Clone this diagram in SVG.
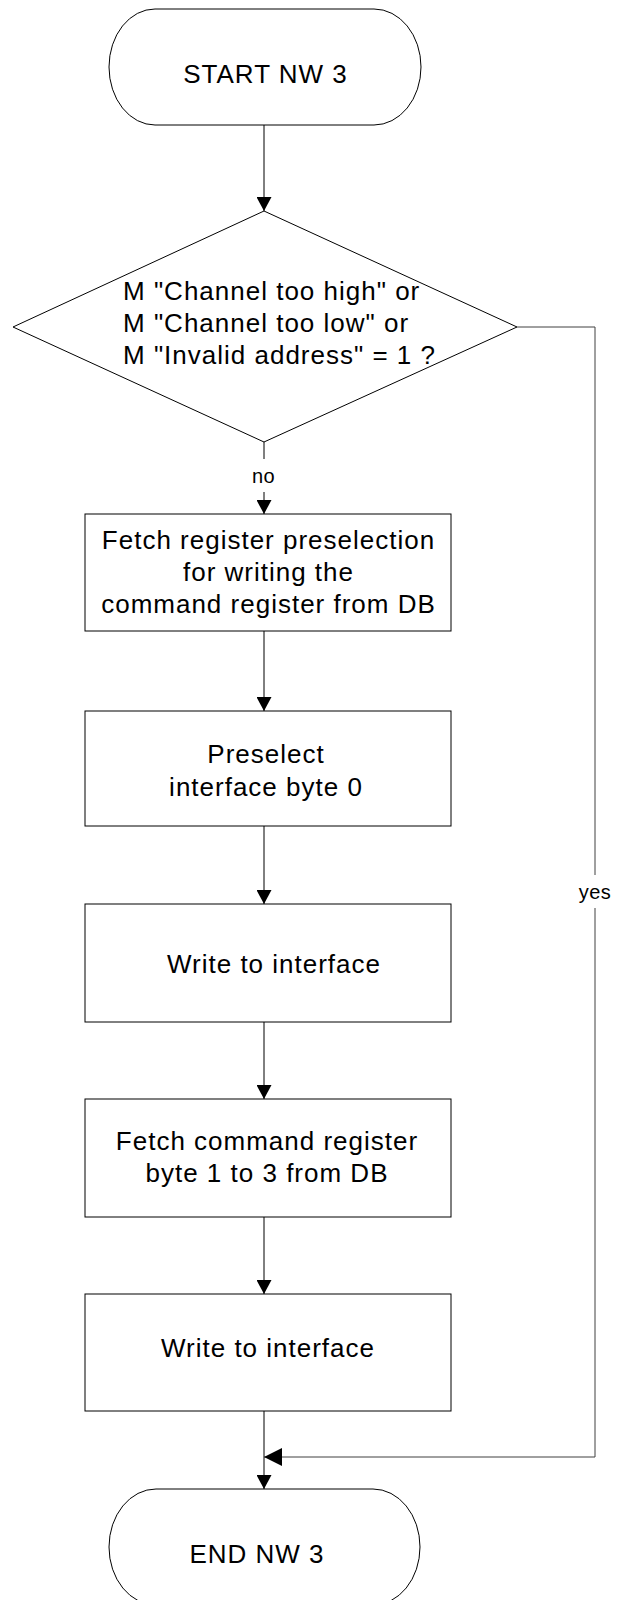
<svg xmlns="http://www.w3.org/2000/svg" width="618" height="1600" viewBox="0 0 618 1600">
<defs>
<style>
.shape{fill:#fff;stroke:#000;stroke-width:1}
.t{font-family:"Liberation Sans",Arial,sans-serif;font-size:26px;letter-spacing:1px;fill:#000}
.tc{text-anchor:middle}
.lbl{font-family:"Liberation Sans",Arial,sans-serif;font-size:20px;letter-spacing:0.5px;fill:#000;text-anchor:middle}
.c{fill:none;stroke:#000;stroke-width:1}
.cg{fill:none;stroke:#404040;stroke-width:1}
</style>
<marker id="ad" viewBox="0 0 14 15" refX="14" refY="7.5" markerWidth="14" markerHeight="15" markerUnits="userSpaceOnUse" orient="auto"><path d="M0,0 L14,7.5 L0,15 Z" fill="#000"/></marker>
<marker id="al" viewBox="0 0 18 18" refX="18" refY="9" markerWidth="18" markerHeight="18" markerUnits="userSpaceOnUse" orient="auto"><path d="M0,0 L18,9 L0,18 Z" fill="#000"/></marker>
</defs>
<rect width="618" height="1600" fill="#fff"/>
<g id="connectors">
<line class="c" x1="264" y1="125" x2="264" y2="211" marker-end="url(#ad)"/>
<line class="c" x1="264" y1="442" x2="264" y2="459"/>
<line class="c" x1="264" y1="492" x2="264" y2="514" marker-end="url(#ad)"/>
<line class="c" x1="264" y1="631" x2="264" y2="711" marker-end="url(#ad)"/>
<line class="c" x1="264" y1="826" x2="264" y2="904" marker-end="url(#ad)"/>
<line class="c" x1="264" y1="1022" x2="264" y2="1099" marker-end="url(#ad)"/>
<line class="c" x1="264" y1="1217" x2="264" y2="1294" marker-end="url(#ad)"/>
<line class="c" x1="264" y1="1411" x2="264" y2="1489" marker-end="url(#ad)"/>
<polyline class="cg" points="517,327 595,327 595,875"/>
<polyline class="cg" points="595,908 595,1457 264,1457" marker-end="url(#al)"/>
<text class="lbl" x="263.5" y="483">no</text>
<text class="lbl" x="595" y="899">yes</text>
</g>
<g id="start">
<path class="shape" d="M155,9 H374 A47,58 0 0 1 374,125 H155 A46,58 0 0 1 155,9 Z"/>
<text class="t tc" x="265.5" y="83">START NW 3</text>
</g>
<g id="decision">
<polygon class="shape" points="264,211 517,327 264,442 13,327"/>
<text class="t" x="123" y="300">M "Channel too high" or</text>
<text class="t" x="123" y="332">M "Channel too low" or</text>
<text class="t" x="123" y="364">M "Invalid address" = 1 ?</text>
</g>
<g id="fetch-preselection">
<rect class="shape" x="85" y="514" width="366" height="117"/>
<text class="t tc" x="268.5" y="549">Fetch register preselection</text>
<text class="t tc" x="268.5" y="581">for writing the</text>
<text class="t tc" x="268.5" y="613">command register from DB</text>
</g>
<g id="preselect-byte0">
<rect class="shape" x="85" y="711" width="366" height="115"/>
<text class="t tc" x="266" y="763">Preselect</text>
<text class="t tc" x="266" y="796">interface byte 0</text>
</g>
<g id="write-1">
<rect class="shape" x="85" y="904" width="366" height="118"/>
<text class="t tc" x="274" y="973">Write to interface</text>
</g>
<g id="fetch-command">
<rect class="shape" x="85" y="1099" width="366" height="118"/>
<text class="t tc" x="267" y="1150">Fetch command register</text>
<text class="t tc" x="267" y="1182">byte 1 to 3 from DB</text>
</g>
<g id="write-2">
<rect class="shape" x="85" y="1294" width="366" height="117"/>
<text class="t tc" x="268" y="1357">Write to interface</text>
</g>
<g id="end">
<path class="shape" d="M156,1489 H373 A47,58 0 0 1 373,1605 H156 A47,58 0 0 1 156,1489 Z"/>
<text class="t tc" x="257" y="1563">END NW 3</text>
</g>
</svg>
